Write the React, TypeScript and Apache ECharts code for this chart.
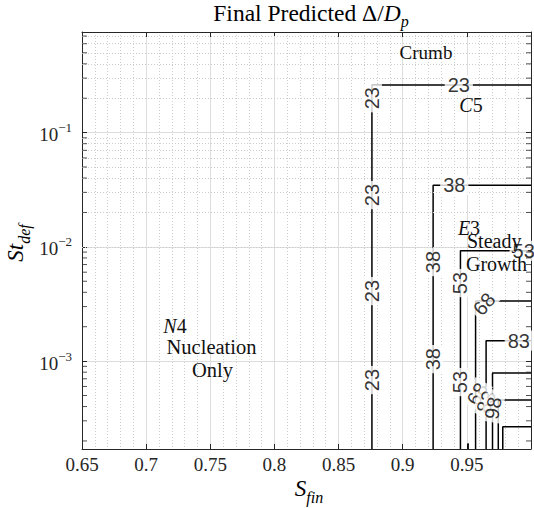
import React, { useEffect, useRef } from 'react';
import * as echarts from 'echarts';

// Axis ranges
const X_MIN = 0.65;
const X_MAX = 1.0;
const X_STEP = 0.05;
const Y_MIN = 1.7e-4;
const Y_MAX = 0.76;

// Contour levels: each is a step line (vertical at levelX up to levelTurnY, then horizontal to the right edge)
const levels = [23, 38, 53, 68, 83, 98, 113, 128];
const levelX = [0.876, 0.9237, 0.945, 0.9568, 0.965, 0.970, 0.9745, 0.978];
const levelTurnY = [0.261, 0.0347, 0.00923, 0.00335, 0.00151, 7.85e-4, 4.56e-4, 2.66e-4];

// small isolated contour fragment near the bottom
const stubX = [0.951, 0.951];
const stubY = [1.7e-4, 1.91e-4];

// Contour labels
const labelText = ['23', '23', '23', '23', '23', '38', '38', '38', '53', '53', '53', '68', '83', '68', '83', '98'];
const labelX = [0.876, 0.876, 0.876, 0.876, 0.9437, 0.9402, 0.9237, 0.9237, 0.945, 0.945, 0.9943, 0.9634, 0.9905, 0.9581, 0.965, 0.9704];
const labelY = [0.2, 0.0284, 0.0041, 6.82e-4, 0.261, 0.0347, 0.00736, 0.00104, 0.00482, 6.55e-4, 0.00923, 0.00316, 0.00151, 5.14e-4, 4.38e-4, 3.88e-4];
const labelAngle = [90, 90, 90, 90, 0, 0, 90, 90, 90, 90, 0, 50, 0, 60, 70, 80];

// log-axis minor grid positions
const minorDecades = [-4, -3, -2, -1];
const minorMultipliers = [2, 3, 4, 5, 6, 7, 8, 9];

const SERIF = '"Liberation Serif", "Times New Roman", serif';
const SANS = '"Liberation Sans", Arial, sans-serif';
const AX = '#262626';
const MINOR = '#cdcdcd';
const MAJOR = '#dddddd';

export default function App() {
  const ref = useRef<HTMLDivElement>(null);

  useEffect(() => {
    if (!ref.current) return;
    const chart = echarts.init(ref.current, undefined, { renderer: 'svg' });

    const minorY: number[] = [];
    minorDecades.forEach((d) => {
      minorMultipliers.forEach((m) => {
        const v = m * Math.pow(10, d);
        if (v > Y_MIN && v < Y_MAX) minorY.push(v);
      });
    });

    const contourSeries = levels.map((lv, i) => ({
      type: 'line',
      name: String(lv),
      data: [
        [levelX[i], Y_MIN],
        [levelX[i], levelTurnY[i]],
        [X_MAX, levelTurnY[i]],
      ],
      showSymbol: false,
      symbol: 'none',
      silent: true,
      lineStyle: { color: '#000', width: 1.5 },
      z: 3,
    }));

    const grid = { left: 82, top: 32, width: 453, height: 417 };

    const option: any = {
      animation: false,
      backgroundColor: '#fff',
      grid,
      xAxis: [
        {
          type: 'value',
          min: X_MIN,
          max: X_MAX,
          interval: X_STEP,
          position: 'bottom',
          axisLine: { show: true, onZero: false, lineStyle: { color: AX, width: 1 } },
          axisTick: { show: true, inside: true, length: 5, lineStyle: { color: AX } },
          axisLabel: {
            fontFamily: SERIF,
            fontSize: 19,
            color: AX,
            margin: 6,
            formatter: (v: number) => (v > 0.999 ? '' : String(parseFloat(v.toFixed(2)))),
          },
          splitLine: { show: true, lineStyle: { color: MAJOR, width: 1 } },
          minorTick: { show: false, splitNumber: 5 },
          minorSplitLine: { show: true, lineStyle: { color: MINOR, width: 1, type: [1, 2] } },
        },
        {
          type: 'value',
          min: X_MIN,
          max: X_MAX,
          interval: X_STEP,
          position: 'top',
          axisLine: { show: true, onZero: false, lineStyle: { color: AX, width: 1 } },
          axisTick: { show: true, inside: true, length: 5, lineStyle: { color: AX } },
          axisLabel: { show: false },
          splitLine: { show: false },
        },
      ],
      yAxis: [
        {
          type: 'log',
          logBase: 10,
          min: Y_MIN,
          max: Y_MAX,
          position: 'left',
          axisLine: { show: true, onZero: false, lineStyle: { color: AX, width: 1 } },
          axisTick: { show: true, inside: true, length: 5, lineStyle: { color: AX } },
          axisLabel: {
            margin: 10,
            color: AX,
            formatter: (v: number) => {
              const e = Math.log10(v);
              const r = Math.round(e);
              if (Math.abs(e - r) > 1e-6) return '';
              return `{b|10}{s|\u2212${-r}}`;
            },
            rich: {
              b: { fontFamily: SERIF, fontSize: 19, color: AX, padding: [4, 0, 0, 0], verticalAlign: 'bottom' },
              s: { fontFamily: SERIF, fontSize: 13, color: AX, verticalAlign: 'top' },
            },
          },
          splitLine: { show: true, lineStyle: { color: MAJOR, width: 1 } },
        },
        {
          type: 'log',
          logBase: 10,
          min: Y_MIN,
          max: Y_MAX,
          position: 'right',
          axisLine: { show: true, onZero: false, lineStyle: { color: AX, width: 1 } },
          axisTick: { show: true, inside: true, length: 5, lineStyle: { color: AX } },
          axisLabel: { show: false },
          splitLine: { show: false },
        },
      ],
      series: [
        {
          type: 'line',
          name: 'minorGrid',
          data: [],
          silent: true,
          z: 1,
          markLine: {
            silent: true,
            symbol: ['none', 'none'],
            label: { show: false },
            lineStyle: { color: MINOR, width: 1, type: [1, 2] },
            data: minorY.map((v) => ({ yAxis: v })),
          },
        },
        ...contourSeries,
        {
          type: 'line',
          name: 'stub',
          data: stubX.map((x, i) => [x, stubY[i]]),
          showSymbol: false,
          symbol: 'none',
          silent: true,
          lineStyle: { color: '#000', width: 1.5 },
          z: 3,
        },
        {
          type: 'scatter',
          name: 'labels',
          symbolSize: 0,
          silent: true,
          z: 5,
          data: labelText.map((t, i) => ({
            name: t,
            value: [labelX[i], labelY[i]],
            label: { rotate: labelAngle[i] },
          })),
          label: {
            show: true,
            position: 'inside',
            formatter: '{b}',
            fontFamily: SANS,
            fontSize: 20,
            color: '#000',
            backgroundColor: '#fff',
            padding: [0, 3],
          },
        },
        {
          type: 'scatter',
          name: 'minorTicksLeft',
          symbol: 'rect',
          symbolSize: [5, 1],
          symbolOffset: [2.5, 0],
          silent: true,
          clip: false,
          z: 6,
          itemStyle: { color: AX },
          data: minorY.map((v) => [X_MIN, v]),
        },
        {
          type: 'scatter',
          name: 'minorTicksRight',
          symbol: 'rect',
          symbolSize: [5, 1],
          symbolOffset: [-2.5, 0],
          silent: true,
          clip: false,
          z: 6,
          itemStyle: { color: AX },
          data: minorY.map((v) => [X_MAX, v]),
        },
      ],
      graphic: [
        {
          type: 'text',
          x: 311,
          y: 15,
          z: 10,
          style: {
            text: '{r|Final Predicted \u0394/}{i|D}{s|p}',
            textAlign: 'center',
            textVerticalAlign: 'middle',
            rich: {
              r: { fontFamily: SERIF, fontSize: 23.5, fill: '#000', padding: [0, 0, 4, 0], verticalAlign: 'top' },
              i: { fontFamily: SERIF, fontSize: 23.5, fontStyle: 'italic', fill: '#000', padding: [0, 0, 4, 0], verticalAlign: 'top' },
              s: { fontFamily: SERIF, fontSize: 16, fontStyle: 'italic', fill: '#000', verticalAlign: 'bottom' },
            },
          },
        },
        {
          type: 'text',
          x: 309,
          y: 491,
          z: 10,
          style: {
            text: '{i|S}{s|fin}',
            textAlign: 'center',
            textVerticalAlign: 'middle',
            rich: {
              i: { fontFamily: SERIF, fontSize: 23, fontStyle: 'italic', fill: '#000', padding: [0, 0, 5, 0], verticalAlign: 'top' },
              s: { fontFamily: SERIF, fontSize: 16, fontStyle: 'italic', fill: '#000', verticalAlign: 'bottom' },
            },
          },
        },
        {
          type: 'text',
          x: 18,
          y: 243,
          rotation: Math.PI / 2,
          z: 10,
          style: {
            text: '{i|St}{s|def}',
            textAlign: 'center',
            textVerticalAlign: 'middle',
            rich: {
              i: { fontFamily: SERIF, fontSize: 23, fontStyle: 'italic', fill: '#000', padding: [0, 0, 5, 0], verticalAlign: 'top' },
              s: { fontFamily: SERIF, fontSize: 16, fontStyle: 'italic', fill: '#000', verticalAlign: 'bottom' },
            },
          },
        },
        {
          type: 'text', x: 426, y: 52, z: 10,
          style: { text: 'Crumb', fontFamily: SERIF, fontSize: 19, fill: '#111', textAlign: 'center', textVerticalAlign: 'middle' },
        },
        {
          type: 'text', x: 471, y: 105, z: 10,
          style: {
            text: '{i|C}{r|5}', textAlign: 'center', textVerticalAlign: 'middle',
            rich: {
              i: { fontFamily: SERIF, fontSize: 20, fontStyle: 'italic', fill: '#111' },
              r: { fontFamily: SERIF, fontSize: 20, fill: '#111' },
            },
          },
        },
        {
          type: 'text', x: 469, y: 228, z: 10,
          style: {
            text: '{i|E}{r|3}', textAlign: 'center', textVerticalAlign: 'middle',
            rich: {
              i: { fontFamily: SERIF, fontSize: 20, fontStyle: 'italic', fill: '#111' },
              r: { fontFamily: SERIF, fontSize: 20, fill: '#111' },
            },
          },
        },
        {
          type: 'text', x: 467, y: 241, z: 10,
          style: { text: 'Steady', fontFamily: SERIF, fontSize: 20, fill: '#111', textAlign: 'left', textVerticalAlign: 'middle' },
        },
        {
          type: 'text', x: 466, y: 264, z: 10,
          style: { text: 'Growth', fontFamily: SERIF, fontSize: 20, fill: '#111', textAlign: 'left', textVerticalAlign: 'middle' },
        },
        {
          type: 'text', x: 175, y: 326, z: 10,
          style: {
            text: '{i|N}{r|4}', textAlign: 'center', textVerticalAlign: 'middle',
            rich: {
              i: { fontFamily: SERIF, fontSize: 20, fontStyle: 'italic', fill: '#111' },
              r: { fontFamily: SERIF, fontSize: 20, fill: '#111' },
            },
          },
        },
        {
          type: 'text', x: 211.5, y: 347, z: 10,
          style: { text: 'Nucleation', fontFamily: SERIF, fontSize: 20.5, fill: '#111', textAlign: 'center', textVerticalAlign: 'middle' },
        },
        {
          type: 'text', x: 212.5, y: 370, z: 10,
          style: { text: 'Only', fontFamily: SERIF, fontSize: 20.5, fill: '#111', textAlign: 'center', textVerticalAlign: 'middle' },
        },
      ],
    };

    chart.setOption(option);
    return () => {
      chart.dispose();
    };
  }, []);

  return (
    <div
      ref={ref}
      style={{ position: 'fixed', left: 0, top: 0, width: 534, height: 508, background: '#fff' }}
    />
  );
}
